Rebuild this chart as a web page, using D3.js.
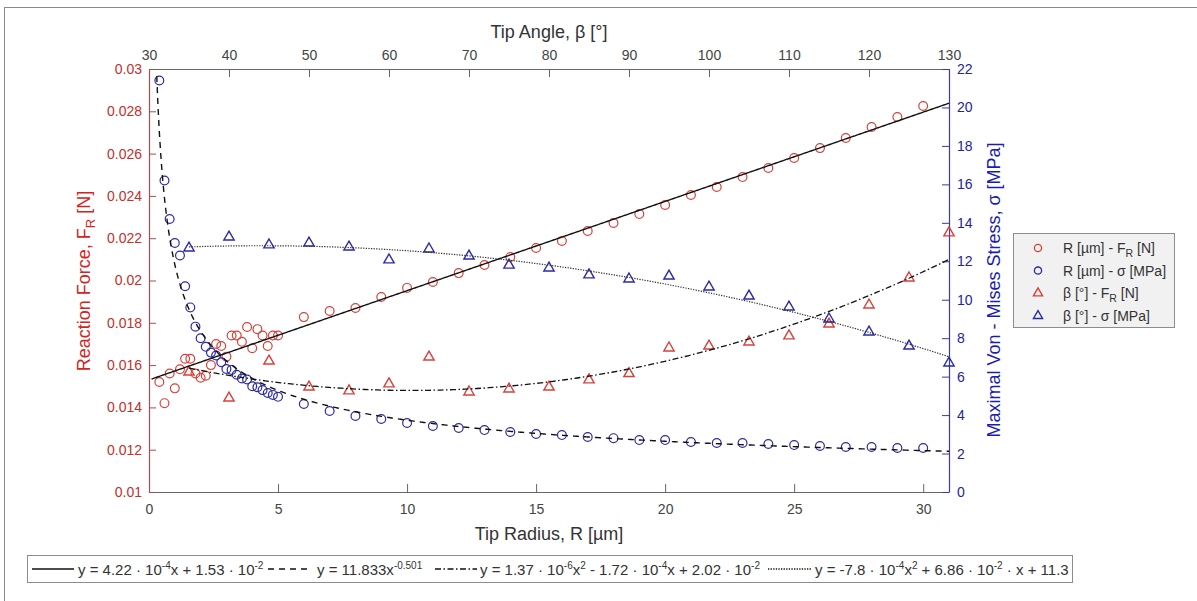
<!DOCTYPE html>
<html>
<head>
<meta charset="utf-8">
<script src="https://cdn.jsdelivr.net/npm/d3@7"></script>
<style>
  body { margin: 0; background: #fff; }
  svg { font-family: "Liberation Sans", Arial, sans-serif; }
</style>
</head>
<body>
<div id="chart"></div>
<script>
// tip radius R [µm] for both circle series
const radius = [0.4, 0.6, 0.8, 1.0, 1.2, 1.4, 1.6, 1.8, 2.0, 2.2, 2.4, 2.6, 2.8, 3.0, 3.2, 3.4, 3.6, 3.8, 4.0, 4.2, 4.4, 4.6, 4.8, 5.0,
  6, 7, 8, 9, 10, 11, 12, 13, 14, 15, 16, 17, 18, 19, 20, 21, 22, 23, 24, 25, 26, 27, 28, 29, 30]
// reaction force F_R [N] vs R
const forceR = [0.0152, 0.0142, 0.0156, 0.0149, 0.0158, 0.0163, 0.0163, 0.0156, 0.0154, 0.0155, 0.0160, 0.0170, 0.0169, 0.0164,
  0.0174, 0.0174, 0.0171, 0.0178, 0.0168, 0.0177, 0.0174, 0.0169, 0.0174, 0.0174,
  0.01827, 0.01856, 0.0187, 0.01922, 0.01965, 0.01993, 0.02035, 0.02073, 0.02111, 0.02154, 0.02187, 0.02234, 0.02272,
  0.02314, 0.02357, 0.02404, 0.02442, 0.02489, 0.02532, 0.02579, 0.02626, 0.02674, 0.02726, 0.02773, 0.02825]
// von Mises stress [MPa] vs R
const stressR = [21.4, 16.2, 14.2, 12.95, 12.3, 10.7, 9.6, 8.6, 8.0, 7.55, 7.25, 7.1, 6.75, 6.4, 6.35, 6.1, 5.9, 5.85, 5.5, 5.45,
  5.3, 5.15, 5.05, 4.95,
  4.58, 4.21, 3.95, 3.8, 3.59, 3.43, 3.33, 3.22, 3.12, 3.02, 2.96, 2.86, 2.8, 2.7, 2.7, 2.6, 2.55, 2.55, 2.5, 2.44, 2.39,
  2.34, 2.34, 2.29, 2.29]

// tip angle beta [°] for both triangle series
const angle = [35, 40, 45, 50, 55, 60, 65, 70, 75, 80, 85, 90, 95, 100, 105, 110, 115, 120, 125, 130]
const forceB = [0.01567, 0.01444, 0.01619, 0.01496, 0.01478, 0.01511, 0.01638, 0.01473, 0.01487, 0.01496, 0.0153, 0.0156,
  0.01681, 0.0169, 0.01709, 0.01738, 0.01794, 0.01884, 0.02012, 0.02225]
const stressB = [12.69, 13.26, 12.85, 12.95, 12.74, 12.07, 12.64, 12.27, 11.8, 11.65, 11.29, 11.08, 11.23, 10.66, 10.19,
  9.62, 9.0, 8.32, 7.59, 6.71]

// printed fit equations
const fitLin = [4.22e-4, 1.53e-2]          // F = a R + b
const fitPow = [11.833, -0.501]            // sigma = a R^b
const fitQuadF = [1.37e-6, -1.72e-4, 2.02e-2] // F = a b^2 + b b + c
const fitQuadS = [-7.8e-4, 6.86e-2, 11.3]  // sigma = a b^2 + b b + c

const bottomTicks = [0, 5, 10, 15, 20, 25, 30]
const topTicks = [30, 40, 50, 60, 70, 80, 90, 100, 110, 120, 130]
const leftTicks = [0.01, 0.012, 0.014, 0.016, 0.018, 0.02, 0.022, 0.024, 0.026, 0.028, 0.03]
const rightTicks = [0, 2, 4, 6, 8, 10, 12, 14, 16, 18, 20, 22]

const W = 1197, H = 601
const plot = { left: 149, right: 949, top: 69, bottom: 492 }
const RED = '#d8403a', BLUE = '#2a2aa8'
const RED_TXT = '#c4302c', BLUE_TXT = '#24249c', GRAY_TXT = '#444'

const svg = d3.select('#chart').append('svg')
  .attr('width', W).attr('height', H)

// outer frame of the figure
svg.append('rect').attr('x', 4.5).attr('y', 7.5).attr('width', 1210).attr('height', 620)
  .attr('fill', 'none').attr('stroke', '#8a8a8a')

const x = d3.scaleLinear().domain([0, 31]).range([plot.left, plot.right])
const xTop = d3.scaleLinear().domain([30, 130]).range([plot.left, plot.right])
const yL = d3.scaleLinear().domain([0.01, 0.03]).range([plot.bottom, plot.top])
const yR = d3.scaleLinear().domain([0, 22]).range([plot.bottom, plot.top])

svg.append('defs').append('clipPath').attr('id', 'clip')
  .append('rect').attr('x', plot.left).attr('y', plot.top)
  .attr('width', plot.right - plot.left).attr('height', plot.bottom - plot.top)

// axes (inner ticks, matlab style)
function styleAxis(g, lineColor, textColor) {
  g.select('.domain').attr('stroke', lineColor).attr('stroke-width', 1.2)
  g.selectAll('.tick line').attr('stroke', lineColor).attr('stroke-width', 1)
  g.selectAll('.tick text').attr('fill', textColor).attr('font-size', 14)
    .attr('font-family', '"Liberation Sans", Arial, sans-serif')
}

svg.append('g').attr('transform', `translate(0,${plot.bottom})`)
  .call(d3.axisBottom(x).tickValues(bottomTicks).tickSizeInner(-8).tickSizeOuter(0).tickPadding(12))
  .call(g => styleAxis(g, '#666', GRAY_TXT))

svg.append('g').attr('transform', `translate(0,${plot.top})`)
  .call(d3.axisTop(xTop).tickValues(topTicks).tickSizeInner(-8).tickSizeOuter(0).tickPadding(9))
  .call(g => styleAxis(g, '#666', GRAY_TXT))

svg.append('g').attr('transform', `translate(${plot.left},0)`)
  .call(d3.axisLeft(yL).tickValues(leftTicks).tickFormat(d3.format('~g')).tickSizeInner(-7).tickSizeOuter(0).tickPadding(7))
  .call(g => styleAxis(g, '#a05050', RED_TXT))

svg.append('g').attr('transform', `translate(${plot.right},0)`)
  .call(d3.axisRight(yR).tickValues(rightTicks).tickSizeInner(-7).tickSizeOuter(0).tickPadding(8))
  .call(g => styleAxis(g, '#3a3aa0', BLUE_TXT))

// axis titles
svg.append('text').attr('x', (plot.left + plot.right) / 2).attr('y', 38)
  .attr('text-anchor', 'middle').attr('font-size', 18).attr('fill', '#333')
  .text('Tip Angle, β [°]')

svg.append('text').attr('x', (plot.left + plot.right) / 2).attr('y', 540)
  .attr('text-anchor', 'middle').attr('font-size', 18).attr('fill', '#333')
  .text('Tip Radius, R [µm]')

const leftTitle = svg.append('text').attr('transform', `translate(90,281) rotate(-90)`)
  .attr('text-anchor', 'middle').attr('font-size', 18).attr('fill', '#d52420')
leftTitle.append('tspan').text('Reaction Force, F')
leftTitle.append('tspan').attr('font-size', 13).attr('dy', 5).text('R')
leftTitle.append('tspan').attr('dy', -5).text(' [N]')

svg.append('text').attr('transform', `translate(1000,290) rotate(-90)`)
  .attr('text-anchor', 'middle').attr('font-size', 18).attr('fill', '#1c1cb0')
  .text('Maximal Von - Mises Stress, σ [MPa]')

// data
const circles = radius.map((r, i) => ({ r, f: forceR[i], s: stressR[i] }))
const triangles = angle.map((b, i) => ({ b, f: forceB[i], s: stressB[i] }))
const tri = d3.symbol().type(d3.symbolTriangle).size(46)

const marks = svg.append('g')
marks.selectAll('.cR').data(circles).join('circle')
  .attr('cx', d => x(d.r)).attr('cy', d => yL(d.f)).attr('r', 4.4)
  .attr('fill', 'none').attr('stroke', RED).attr('stroke-width', 1.2)
marks.selectAll('.cS').data(circles).join('circle')
  .attr('cx', d => x(d.r)).attr('cy', d => yR(d.s)).attr('r', 4.4)
  .attr('fill', 'none').attr('stroke', BLUE).attr('stroke-width', 1.2)
marks.selectAll('.tF').data(triangles).join('path')
  .attr('d', tri).attr('transform', d => `translate(${xTop(d.b)},${yL(d.f)})`)
  .attr('fill', 'none').attr('stroke', RED).attr('stroke-width', 1.4)
marks.selectAll('.tS').data(triangles).join('path')
  .attr('d', tri).attr('transform', d => `translate(${xTop(d.b)},${yR(d.s)})`)
  .attr('fill', 'none').attr('stroke', BLUE).attr('stroke-width', 1.4)

// fit curves from the printed equations
const fits = svg.append('g').attr('clip-path', 'url(#clip)')
const rSamples = d3.range(0.1, 31.01, 0.05)
const bSamples = d3.range(35, 130.01, 0.5)

fits.append('path')
  .attr('d', d3.line().x(r => x(r)).y(r => yL(fitLin[0] * r + fitLin[1]))(rSamples))
  .attr('fill', 'none').attr('stroke', '#111').attr('stroke-width', 1.4)

fits.append('path')
  .attr('d', d3.line().x(r => x(r)).y(r => yR(fitPow[0] * Math.pow(r, fitPow[1])))(rSamples.filter(r => r >= 0.29)))
  .attr('fill', 'none').attr('stroke', '#111').attr('stroke-width', 1.4).attr('stroke-dasharray', '6,5')

fits.append('path')
  .attr('d', d3.line().x(b => xTop(b)).y(b => yL(fitQuadF[0] * b * b + fitQuadF[1] * b + fitQuadF[2]))(bSamples))
  .attr('fill', 'none').attr('stroke', '#111').attr('stroke-width', 1.3).attr('stroke-dasharray', '6,2.5,1.5,2.5')

fits.append('path')
  .attr('d', d3.line().x(b => xTop(b)).y(b => yR(fitQuadS[0] * b * b + fitQuadS[1] * b + fitQuadS[2]))(bSamples))
  .attr('fill', 'none').attr('stroke', '#333').attr('stroke-width', 1.2).attr('stroke-dasharray', '1.3,1.3')

// marker legend
const legendRows = [
  { label: ['R [µm] - F', 'R', ' [N]'], color: RED, shape: 'circle' },
  { label: ['R [µm] - σ [MPa]'], color: BLUE, shape: 'circle' },
  { label: ['β [°] - F', 'R', ' [N]'], color: RED, shape: 'triangle' },
  { label: ['β [°] - σ [MPa]'], color: BLUE, shape: 'triangle' }
]
const legend = svg.append('g')
legend.append('rect').attr('x', 1013.5).attr('y', 233.5).attr('width', 161).attr('height', 94)
  .attr('fill', '#f1f1f1').attr('stroke', '#8c8c8c')
legendRows.forEach((row, i) => {
  const cy = 248 + i * 22.6
  if (row.shape === 'circle') {
    legend.append('circle').attr('cx', 1038).attr('cy', cy).attr('r', 3.6)
      .attr('fill', 'none').attr('stroke', row.color).attr('stroke-width', 1.3)
  } else {
    legend.append('path').attr('d', d3.symbol().type(d3.symbolTriangle).size(36)())
      .attr('transform', `translate(1038,${cy})`)
      .attr('fill', 'none').attr('stroke', row.color).attr('stroke-width', 1.4)
  }
  const t = legend.append('text').attr('x', 1063).attr('y', cy + 5).attr('font-size', 14).attr('fill', '#333')
  t.append('tspan').text(row.label[0])
  if (row.label.length > 1) {
    t.append('tspan').attr('font-size', 10.5).attr('dy', 4).text(row.label[1])
    t.append('tspan').attr('dy', -4).text(row.label[2])
  }
})

// equation legend
const eqRows = [
  { x0: 32, x1: 74, tx: 78, dash: null, parts: [['y = 4.22 · 10'], ['-4', 'sup'], ['x + 1.53 · 10'], ['-2', 'sup']] },
  { x0: 268, x1: 310, tx: 317, dash: '6,5', parts: [['y = 11.833x'], ['-0.501', 'sup']] },
  { x0: 435, x1: 477, tx: 480, dash: '6,2.5,1.5,2.5', parts: [['y = 1.37 · 10'], ['-6', 'sup'], ['x'], ['2', 'sup'], [' - 1.72 · 10'], ['-4', 'sup'], ['x + 2.02 · 10'], ['-2', 'sup']] },
  { x0: 768, x1: 812, tx: 815, dash: '1.3,1.3', parts: [['y = -7.8 · 10'], ['-4', 'sup'], ['x'], ['2', 'sup'], [' + 6.86 · 10'], ['-2', 'sup'], [' · x + 11.3']] }
]
const eq = svg.append('g')
eq.append('rect').attr('x', 27.5).attr('y', 555.5).attr('width', 1045).attr('height', 27)
  .attr('fill', '#fff').attr('stroke', '#8c8c8c')
eqRows.forEach(row => {
  eq.append('line').attr('x1', row.x0).attr('x2', row.x1).attr('y1', 569).attr('y2', 569)
    .attr('stroke', '#111').attr('stroke-width', 1.4).attr('stroke-dasharray', row.dash)
  const t = eq.append('text').attr('x', row.tx).attr('y', 575).attr('font-size', 15).attr('fill', '#333')
  let up = false
  row.parts.forEach(p => {
    const s = t.append('tspan').text(p[0])
    if (p[1] === 'sup') { s.attr('font-size', 10).attr('dy', -6); up = true }
    else if (up) { s.attr('dy', 6); up = false }
  })
})
</script>
</body>
</html>
